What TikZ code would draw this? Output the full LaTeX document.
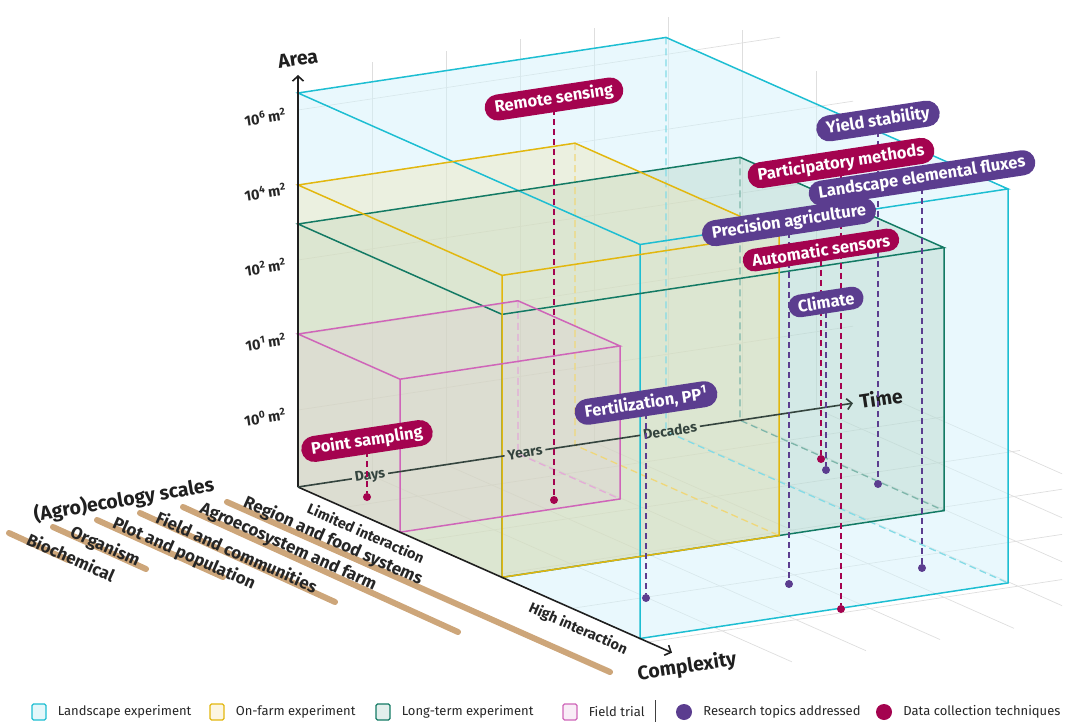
\documentclass[tikz,border=0pt]{standalone}
\usepackage{fontspec}
\setmainfont{Fira Sans}
\usetikzlibrary{arrows.meta,shapes.misc,positioning}

\definecolor{landscape}{HTML}{1DBED2}
\definecolor{landscapeF}{RGB}{212,242,251}
\definecolor{onfarm}{HTML}{E2B70E}
\definecolor{onfarmF}{RGB}{240,225,170}
\definecolor{longterm}{HTML}{137A64}
\definecolor{longtermF}{RGB}{160,198,176}
\definecolor{fieldtrial}{HTML}{CF65B9}
\definecolor{fieldtrialF}{RGB}{220,160,210}
\definecolor{topic}{HTML}{5B3D8F}
\definecolor{datatech}{HTML}{A4034F}
\definecolor{scalebar}{HTML}{CDA67A}
\definecolor{gridgrey}{HTML}{DEDEDE}
\definecolor{timegrey}{HTML}{34443E}

\tikzset{
  gridline/.style={gridgrey, line width=0.7pt},
  boxedge/.style={line width=1.5pt},
  hidden/.style={line width=1.3pt, dash pattern=on 7pt off 4pt},
  axis/.style={line width=1.6pt, black!88, ->},
  axistitle/.style={font=\bfseries\fontsize{19.5}{19.5}\selectfont, text=black!88, rotate=8.6},
  ticklabel/.style={anchor=east, font=\bfseries\fontsize{14.5}{14.5}\selectfont, text=black!85, rotate=8.6, inner sep=1pt},
  timelabel/.style={font=\bfseries\fontsize{14}{14}\selectfont, text=timegrey, rotate=8.6, inner sep=3pt},
  sidelabel/.style={font=\bfseries\fontsize{14.5}{14.5}\selectfont, text=black!85, rotate=-23.9},
  scalelabel/.style={font=\bfseries\fontsize{17}{17}\selectfont, text=black!85, rotate=-24},
  pill/.style={rounded rectangle, fill=#1, text=white, inner xsep=7pt, inner ysep=4.5pt,
    rotate=8.6, font=\bfseries\fontsize{16.5}{16.5}\selectfont},
  pinline/.style={#1, line width=1.6pt, dash pattern=on 6pt off 4pt},
  pindot/.style={circle, fill=#1, inner sep=0pt, minimum size=8pt},
  legendbox/.style={draw=#1, fill=#1!12, line width=1.2pt, rounded corners=1.5pt,
    minimum width=14pt, minimum height=16pt, inner sep=0pt},
  legenddot/.style={circle, fill=#1, minimum size=16pt, inner sep=0pt},
  legendtext/.style={font=\fontsize{13}{13}\selectfont, text=black!85, inner sep=0pt}
}

\begin{document}
\begin{tikzpicture}[x=1pt, y=-1pt, >={Straight Barb[length=5pt,width=11pt]}]
\useasboundingbox (0,0) rectangle (1066,722);

% faint grid on back wall and floor
\begin{scope}
\clip (0,0) rectangle (1062,722);
\begin{scope}[shift={(298,487)}, x={(1pt,0.151pt)}, y={(0pt,1pt)}, z={(1pt,-0.443pt)}]
\foreach \tm/\hgt in {74/414,148/414,222/414,296/414,370/414,444/390,518/338}
  \draw[gridline] (\tm,0,0) -- (\tm,\hgt,0);
\foreach \ar/\len in {77/555,152/555,227/555,302/555,377/482}
  \draw[gridline] (0,\ar,0) -- (\len,\ar,0);
\foreach \cp in {46,122,198,274,350}
  \draw[gridline] (0,0,\cp) -- (600,0,\cp);
\foreach \tm in {74,148,...,592}
  \draw[gridline] (\tm,0,0) -- (\tm,0,420);
\end{scope}
\end{scope}

% experiment boxes (time, area, complexity)
\begin{scope}[shift={(298,487)}, x={(1pt,0.151pt)}, y={(0pt,1pt)}, z={(1pt,-0.443pt)}]
\coordinate (origin) at (0,0,0);
\foreach \tm/\cp/\ar/\fc/\op in {368/342/394/landscapeF/0.5, 442/204/263/longtermF/0.3,
    277/204/302/onfarmF/0.35, 220/102/153/fieldtrialF/0.12}
  \fill[fill=\fc, fill opacity=\op] (0,0,0) -- (0,\ar,0) -- (\tm,\ar,0) -- (\tm,\ar,\cp)
    -- (\tm,0,\cp) -- (0,0,\cp) -- cycle;
\foreach \tm/\cp/\ar/\col in {368/342/394/landscape, 442/204/263/longterm,
    277/204/302/onfarm, 220/102/153/fieldtrial}
  \draw[hidden, \col!55] (\tm,\ar,0) -- (\tm,0,0) -- (\tm,0,\cp);
\foreach \tm/\cp/\ar/\col in {368/342/394/landscape, 442/204/263/longterm,
    277/204/302/onfarm, 220/102/153/fieldtrial} {
  \draw[boxedge, \col] (0,\ar,0) -- (\tm,\ar,0) -- (\tm,\ar,\cp) -- (0,\ar,\cp) -- cycle;
  \draw[boxedge, \col] (0,\ar,\cp) -- (0,0,\cp) -- (\tm,0,\cp) -- (\tm,\ar,\cp);
}

% axes
\coordinate (areaend) at (0,412,0);
\coordinate (complexend) at (0,0,374);
\coordinate (timeend) at (555,0,0);
\draw[axis] (origin) -- (areaend);
\draw[axis] (origin) -- (complexend);
\node[timelabel] (days) at (72,0,0) {Days};
\node[timelabel] (years) at (227,0,0) {Years};
\node[timelabel] (decades) at (372,0,0) {Decades};
\draw[line width=1.6pt, timegrey] (origin) -- (days) -- (years) -- (decades);
\draw[axis, timegrey] (decades) -- (timeend);
\end{scope}

\node[axistitle] (arealab) at (298,59) {Area};
\node[axistitle] (timelab) at (881,398) {Time};
\node[axistitle] (complexlab) at (687,667) {Complexity};
\node[sidelabel] (limited) at (366,533) {Limited interaction};
\node[sidelabel] (high) at (578,629) {High interaction};

\foreach \ex/\yy in {6/114, 4/189, 2/264, 1/339, 0/414}
  \node[ticklabel] (tick\ex) at (287,\yy) {10\textsuperscript{\ex}\,m\textsuperscript{2}};

% (agro)ecology scales
\foreach \xa/\ya/\xb/\yb in {9/533/68/560, 53/527/146/569, 97/520/223/577,
    140/513/335/602, 183/507/458/632, 227/502/610/672}
  \draw[scalebar, line width=6pt, line cap=round] (\xa,\ya) -- (\xb,\yb);
\foreach \xx/\yy/\nm/\txt in {71/557/biochem/Biochemical, 105/547/organism/Organism,
    184/554/plot/Plot and population, 237/552/field/Field and communities,
    288/547/agro/Agroecosystem and farm, 333/541/region/Region and food systems}
  \node[scalelabel] (\nm) at (\xx,\yy) {\txt};
\node[font=\bfseries\fontsize{19.5}{19.5}\selectfont, text=black!88, rotate=9.5] (scales) at (124,500) {(Agro)ecology scales};

% pins: dashed drop lines to dots
\coordinate (remotepos) at (554,99);
\coordinate (pointpos) at (367,441);
\coordinate (fertpos) at (646,403);
\coordinate (yieldpos) at (878,121);
\coordinate (partpos) at (841,163);
\coordinate (fluxpos) at (922,178);
\coordinate (precpos) at (789,222);
\coordinate (autopos) at (821,250);
\coordinate (climpos) at (826,302);

\node[pindot=datatech] (remotedot) at (554,500) {};
\node[pindot=datatech] (pointdot) at (367,497) {};
\node[pindot=topic] (fertdot) at (646,598) {};
\node[pindot=topic] (yielddot) at (878,484) {};
\node[pindot=datatech] (partdot) at (841,609) {};
\node[pindot=topic] (fluxdot) at (922,568) {};
\node[pindot=topic] (precdot) at (789,584) {};
\node[pindot=datatech] (autodot) at (821,459) {};
\node[pindot=topic] (climdot) at (826,470) {};

\draw[pinline=datatech] (remotepos) -- (remotedot);
\draw[pinline=datatech] (pointpos) -- (pointdot);
\draw[pinline=topic] (fertpos) -- (fertdot);
\draw[pinline=topic] (yieldpos) -- (yielddot);
\draw[pinline=datatech] (partpos) -- (partdot);
\draw[pinline=topic] (fluxpos) -- (fluxdot);
\draw[pinline=topic] (precpos) -- (precdot);
\draw[pinline=datatech] (autopos) -- (autodot);
\draw[pinline=topic] (climpos) -- (climdot);

\node[pill=datatech] (remote) at (remotepos) {Remote sensing};
\node[pill=datatech] (point) at (pointpos) {Point sampling};
\node[pill=topic] (fert) at (fertpos) {Fertilization, PP\textsuperscript{1}};
\node[pill=topic] (yield) at (yieldpos) {Yield stability};
\node[pill=datatech] (part) at (partpos) {Participatory methods};
\node[pill=topic] (flux) at (fluxpos) {Landscape elemental fluxes};
\node[pill=topic] (prec) at (precpos) {Precision agriculture};
\node[pill=datatech] (auto) at (autopos) {Automatic sensors};
\node[pill=topic] (clim) at (climpos) {Climate};

% legend
\foreach \xx/\col/\nm/\txt in {39/landscape/land/Landscape experiment, 217/onfarm/farm/On-farm experiment,
    383/longterm/long/Long-term experiment, 570/fieldtrial/trial/Field trial} {
  \node[legendbox=\col] (key\nm) at (\xx,712) {};
  \node[legendtext, right=11pt of key\nm] (txt\nm) {\txt};
}
\draw[black!75, line width=1pt] (655,700) -- (655,722);
\node[legenddot=topic] (keytopic) at (684,712) {};
\node[legendtext, right=11pt of keytopic] (txttopic) {Research topics addressed};
\node[legenddot=datatech] (keydata) at (884,712) {};
\node[legendtext, right=11pt of keydata] (txtdata) {Data collection techniques};
\end{tikzpicture}
\end{document}
